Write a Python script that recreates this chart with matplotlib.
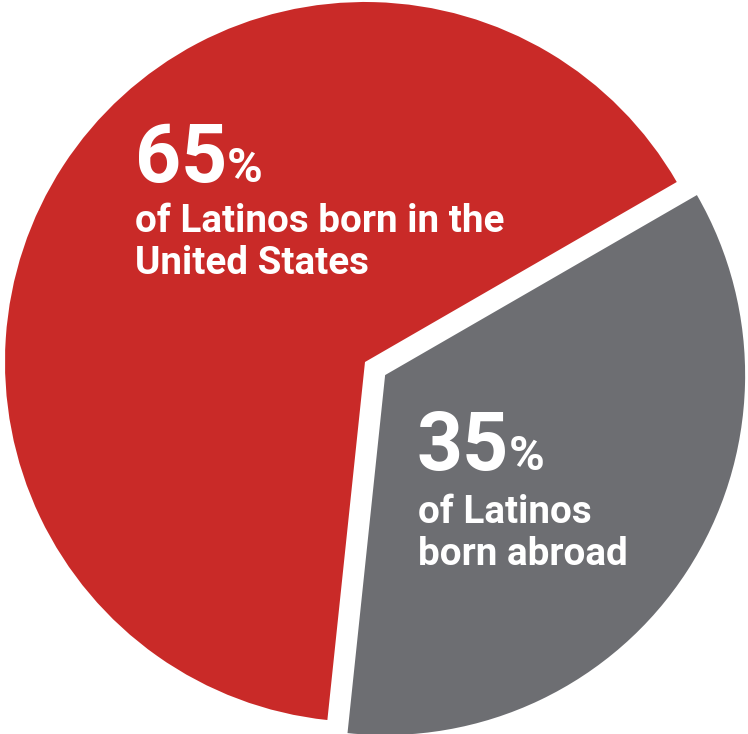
import matplotlib
matplotlib.use("Agg")
import matplotlib.pyplot as plt

plt.rcParams['font.family'] = ['Roboto', 'DejaVu Sans']

# data
labels = ["Born in the United States", "Born abroad"]
shares = [65, 35]
colors = ["#C92A28", "#6D6E72"]
big_nums = ["65", "35"]
captions = ["of Latinos born in the\nUnited States", "of Latinos\nborn abroad"]

W, H = 748, 734
fig = plt.figure(figsize=(W / 100, H / 100), dpi=100)
ax = fig.add_axes([0, 0, 1, 1])

# pie, gray slice pulled out
ax.pie(shares, colors=colors, startangle=30, radius=360, center=(365, H - 362),
       explode=[0, 24], wedgeprops=dict(linewidth=0), frame=True)
ax.set_xlim(0, W)
ax.set_ylim(0, H)
ax.set_aspect('equal')
ax.axis('off')

# text labels (pixel positions from top)
num_pos = [(135, 182), (417, 470)]
cap_pos = [(135, 232), (418, 523)]
wt = 'bold'

fig.canvas.draw()
for num, cap, (nx, ny), (cx, cy) in zip(big_nums, captions, num_pos, cap_pos):
    t = ax.text(nx, H - ny, num, fontsize=58, fontweight=wt, color='white',
                va='baseline', ha='left')
    bb = t.get_window_extent(renderer=fig.canvas.get_renderer())
    ax.text(bb.x1, H - ny, "%", fontsize=35, fontweight=wt, color='white',
            va='baseline', ha='left')
    for i, line in enumerate(cap.split("\n")):
        ax.text(cx, H - cy - i * 42, line, fontsize=27.8, fontweight=wt,
                color='white', va='baseline', ha='left')

fig.savefig("out.png", dpi=100)
